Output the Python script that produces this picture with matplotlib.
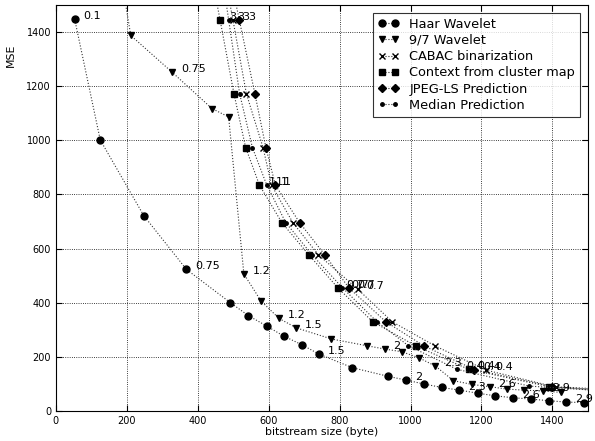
import numpy as np
import matplotlib
matplotlib.use('Agg')
import matplotlib.pyplot as plt

# Haar wavelet
haar_x = [53, 125, 248, 368, 492, 543, 594, 642, 693, 742, 836, 937, 988,
          1037, 1088, 1138, 1189, 1239, 1289, 1341, 1390, 1439, 1490]
haar_y = [1446, 1001, 721, 523, 400, 352, 314, 277, 245, 210, 160, 128, 114,
          100, 87, 77, 66, 56, 49, 44, 38, 33, 31]
haar_lab = {0: '0.1', 3: '0.75', 9: '1.5', 12: '2', 15: '2.3', 18: '2.6', 21: '2.9'}

# 9/7 wavelet
w97_x = [178, 211, 327, 440, 487, 530, 578, 629, 678, 777, 877, 927, 975,
         1023, 1070, 1121, 1174, 1223, 1271, 1321, 1373, 1423]
w97_y = [1650, 1387, 1252, 1117, 1086, 506, 407, 342, 307, 266, 241, 229, 219,
         197, 166, 112, 98, 90, 81, 77, 74, 69]
w97_lab = {2: '0.75', 5: '1.2', 7: '1.2', 8: '1.5', 11: '2', 14: '2.3', 17: '2.6', 20: '2.9'}

# prediction / context variants
cabac_x = [470, 499, 537, 584, 608, 668, 740, 851, 948, 1068, 1213, 1410, 1580]
cabac_y = [1650, 1445, 1172, 973, 834, 696, 577, 450, 330, 241, 151, 88, 76]
ctx_x = [433, 463, 502, 535, 574, 637, 713, 795, 893, 1014, 1164, 1390, 1560]
ctx_y = [1650, 1443, 1172, 973, 834, 696, 577, 455, 330, 241, 154, 90, 72]
jls_x = [484, 517, 561, 592, 619, 687, 758, 826, 930, 1037, 1180, 1400, 1590]
jls_y = [1650, 1445, 1172, 973, 834, 696, 577, 455, 330, 241, 153, 90, 78]
med_x = [464, 487, 518, 554, 594, 648, 722, 808, 905, 994, 1131, 1335, 1540]
med_y = [1650, 1445, 1172, 973, 836, 696, 577, 455, 330, 241, 154, 92, 75]
pred_lab = {1: '3', 4: '1', 7: '0.7', 10: '0.4'}

series = [
    ('Haar Wavelet', haar_x, haar_y, 'o', 5, haar_lab),
    ('9/7 Wavelet', w97_x, w97_y, 'v', 5, w97_lab),
    ('CABAC binarization', cabac_x, cabac_y, 'x', 4.5, pred_lab),
    ('Context from cluster map', ctx_x, ctx_y, 's', 4.5, pred_lab),
    ('JPEG-LS Prediction', jls_x, jls_y, 'D', 4.2, pred_lab),
    ('Median Prediction', med_x, med_y, '.', 5, pred_lab),
]

fig = plt.figure(figsize=(5.95, 4.41), dpi=100)
ax = fig.add_axes([0.094, 0.068, 0.894, 0.921])

for name, xs, ys, mk, ms, labs in series:
    ax.plot(xs, ys, ':', color='0.2', marker=mk, markersize=ms, linewidth=0.8,
            markeredgewidth=1.0, markerfacecolor='black',
            markeredgecolor='black', label=name)
    for i, t in labs.items():
        ax.text(xs[i] + 25, ys[i], t, fontsize=8)

ax.set_xlim(0, 1500)
ax.set_ylim(0, 1500)
ax.set_xticks(np.arange(0, 1401, 200))
ax.set_yticks(np.arange(0, 1401, 200))
ax.tick_params(direction='in', top=True, right=True, labelsize=7, length=4)
ax.grid(True, color='black', linestyle=':', linewidth=0.6)
ax.set_xlabel('bitstream size (byte)', fontsize=7.8, labelpad=1)
ax.set_ylabel('MSE', fontsize=7.8)
ax.yaxis.set_label_coords(-0.075, 0.875)

leg = ax.legend(loc='upper right', numpoints=2, fontsize=9.3, fancybox=False,
                handlelength=1.6, borderaxespad=0.6, labelspacing=0.25)
leg.get_frame().set_edgecolor('black')
leg.get_frame().set_linewidth(0.8)

fig.savefig('out.png', dpi=100)
